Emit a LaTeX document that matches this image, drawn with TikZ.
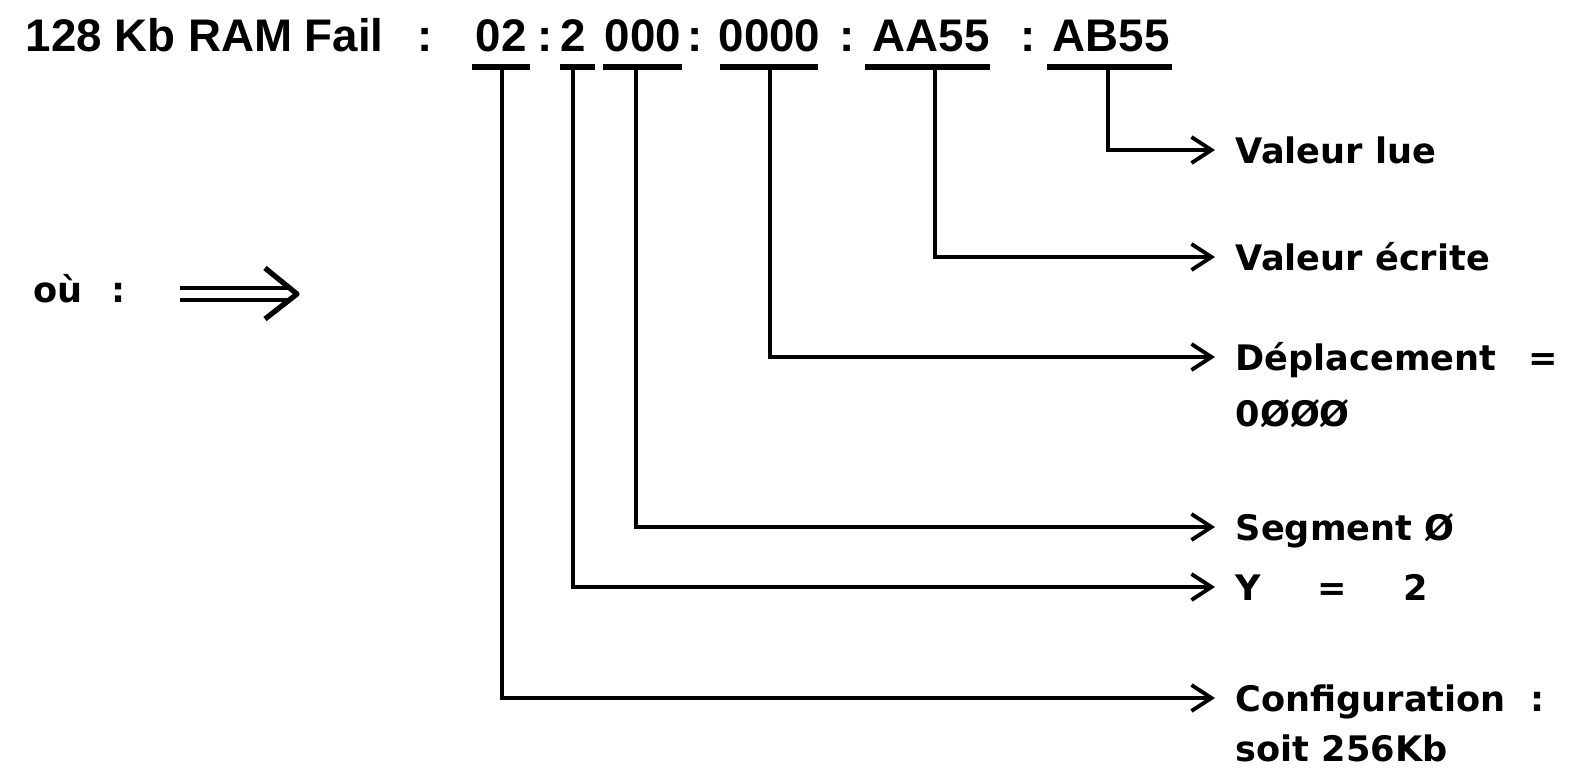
\documentclass[tikz,border=0pt]{standalone}
\usepackage{fontspec}
\setmainfont{Liberation Sans}
\newfontfamily\etiqfont{DejaVu Sans}
\usetikzlibrary{arrows.meta}
\tikzset{
  titre/.style={font=\bfseries\fontsize{13}{15}\selectfont,inner sep=0pt,anchor=base west},
  deuxpts/.style={font=\bfseries\fontsize{13}{15}\selectfont,inner sep=0pt,anchor=base},
  etiq/.style={font=\etiqfont\bfseries\fontsize{10}{12}\selectfont,anchor=west,
    inner xsep=0.2cm,inner ysep=0pt,text height=7.4pt,text depth=0pt},
  souligne/.style={line width=1.6pt},
  fleche/.style={line width=1.1pt,-{Straight Barb[length=0.2cm,width=0.26cm]}}
}
\begin{document}
\begin{tikzpicture}[line cap=butt,line join=miter]
  \useasboundingbox (0,0) rectangle (15.77,-7.71);
  % ligne du message
  \node[titre] (t0) at (0.25,-0.52) {128 Kb RAM Fail};
  \node[deuxpts] (c0) at (4.25,-0.52) {:};
  \node[titre] (f02) at (4.75,-0.52) {02};
  \node[deuxpts] (c1) at (5.45,-0.52) {:};
  \node[titre] (f2) at (5.60,-0.52) {2};
  \node[titre] (f000) at (6.04,-0.52) {000};
  \node[deuxpts] (c2) at (6.95,-0.52) {:};
  \node[titre] (f0000) at (7.18,-0.52) {0000};
  \node[deuxpts] (c3) at (8.47,-0.52) {:};
  \node[titre] (faa) at (8.72,-0.52) {AA55};
  \node[deuxpts] (c4) at (10.28,-0.52) {:};
  \node[titre] (fab) at (10.52,-0.52) {AB55};
  % soulignements
  \draw[souligne] (4.72,-0.67) -- (5.30,-0.67);
  \draw[souligne] (5.60,-0.67) -- (5.95,-0.67);
  \draw[souligne] (6.03,-0.67) -- (6.82,-0.67);
  \draw[souligne] (7.20,-0.67) -- (8.18,-0.67);
  \draw[souligne] (8.65,-0.67) -- (9.90,-0.67);
  \draw[souligne] (10.47,-0.67) -- (11.72,-0.67);
  \coordinate (u1) at (5.02,-0.67);
  \coordinate (u2) at (5.73,-0.67);
  \coordinate (u3) at (6.36,-0.67);
  \coordinate (u4) at (7.70,-0.67);
  \coordinate (u5) at (9.35,-0.67);
  \coordinate (u6) at (11.08,-0.67);
  % ou : =>
  \node[etiq,anchor=base west,inner sep=0pt] (ou) at (0.33,-3.02) {où};
  \node[etiq,anchor=base,inner sep=0pt] (ou2) at (1.19,-3.02) {:};
  \coordinate (imA) at (1.80,-2.94);
  \coordinate (imB) at (2.90,-2.94);
  \draw[double,line width=1.2pt,double distance=2.4pt] (imA) -- (imB);
  \draw[line width=1.5pt,line join=round] (2.65,-2.68) -- (2.97,-2.94) -- (2.65,-3.19);
  % etiquettes
  \node[etiq] (lLue) at (12.15,-1.50) {Valeur lue};
  \node[etiq] (lEcr) at (12.15,-2.57) {Valeur écrite};
  \node[etiq] (lDep) at (12.15,-3.57) {Déplacement\hspace{9pt}=};
  \node[etiq] (lDep2) at (12.15,-4.13) {0ØØØ};
  \node[etiq] (lSeg) at (12.15,-5.27) {Segment Ø};
  \node[etiq] (lY) at (12.15,-5.87) {Y\hspace{16pt}=\hspace{16pt}2};
  \node[etiq] (lConf) at (12.15,-6.98) {Configuration\hspace{7pt}:};
  \node[etiq] (lConf2) at (12.15,-7.48) {soit 256Kb};
  % renvois
  \draw[fleche] (u6) |- (lLue.west);
  \draw[fleche] (u5) |- (lEcr.west);
  \draw[fleche] (u4) |- (lDep.west);
  \draw[fleche] (u3) |- (lSeg.west);
  \draw[fleche] (u2) |- (lY.west);
  \draw[fleche] (u1) |- (lConf.west);
\end{tikzpicture}
\end{document}
